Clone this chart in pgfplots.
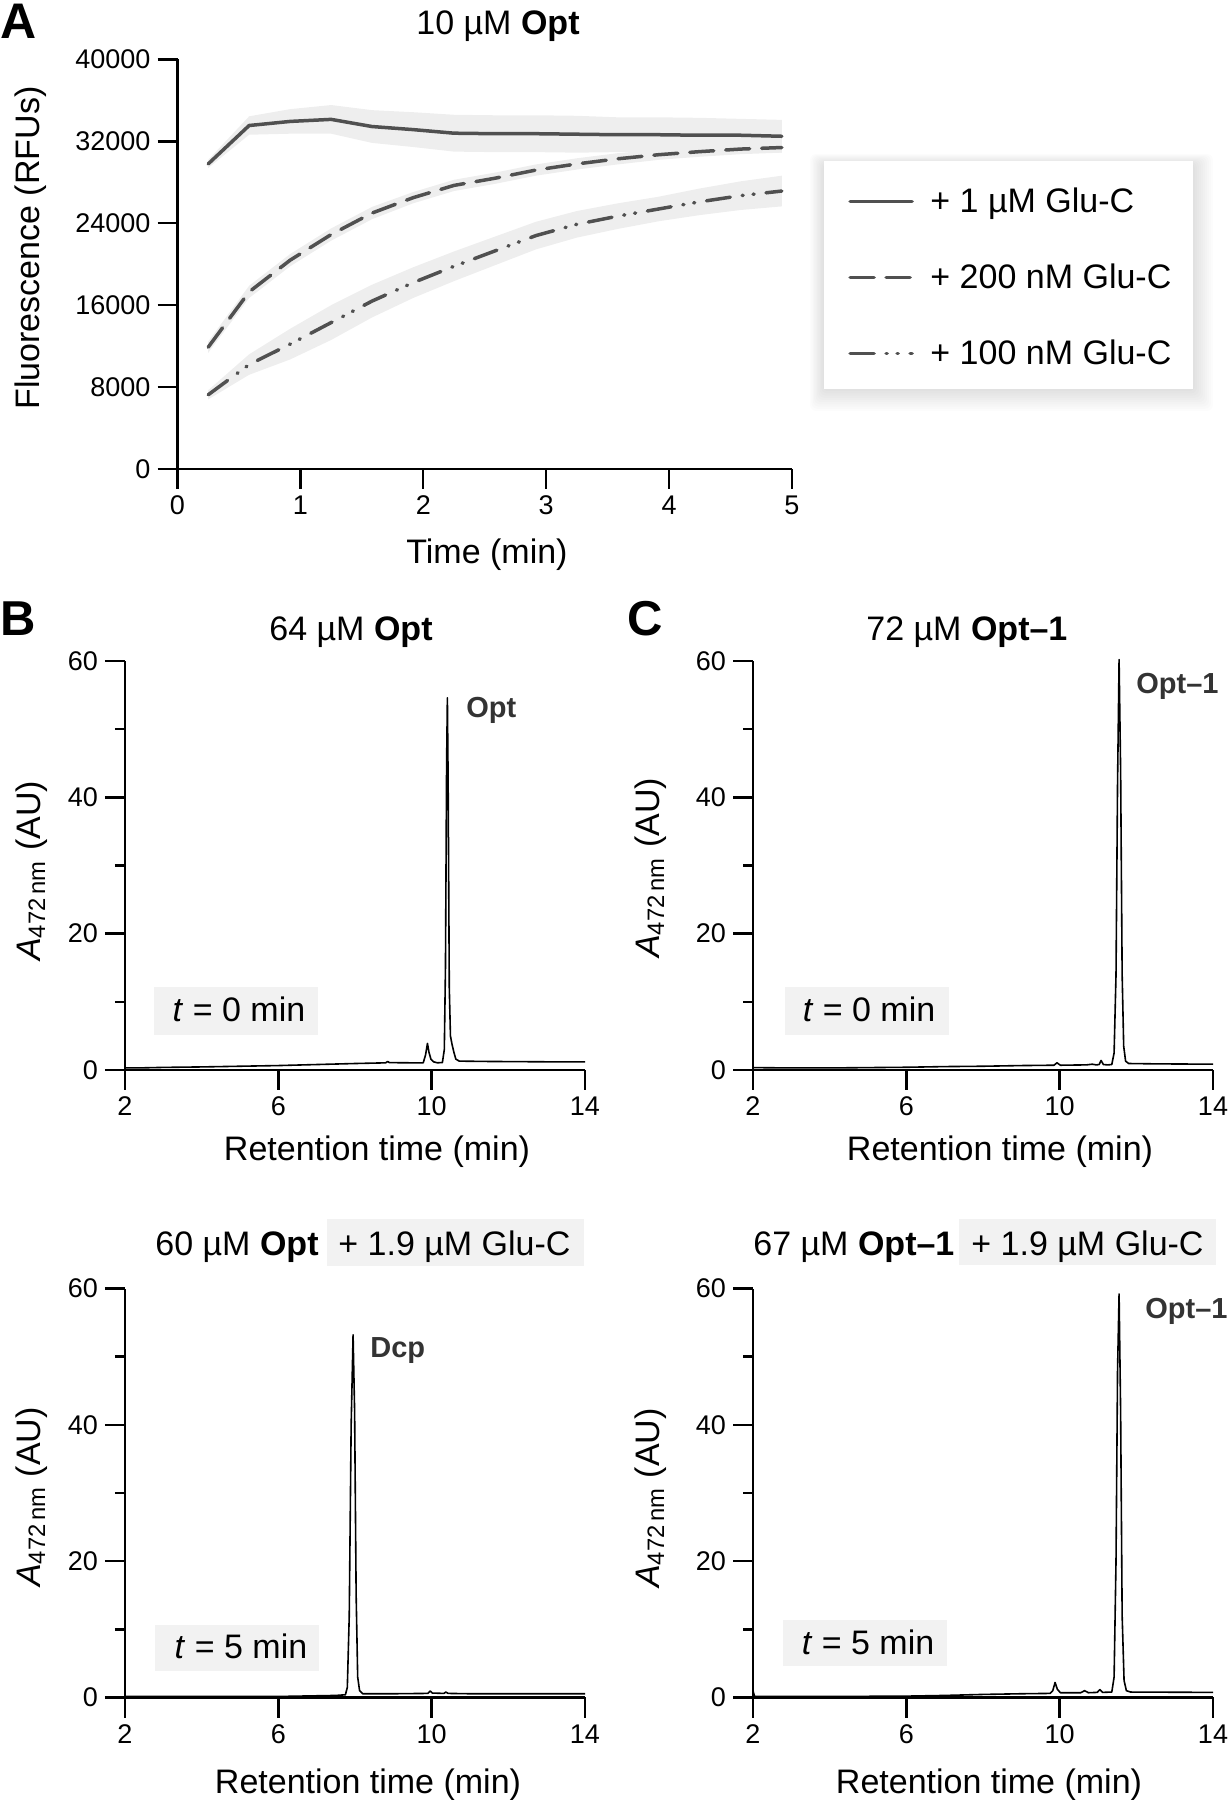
\documentclass[border=0pt]{standalone}
\usepackage{fontspec}
\setmainfont{Liberation Sans}
\usepackage{pgfplots}
\usepackage{pgfplotstable}
\pgfplotsset{compat=1.18}
\usepgfplotslibrary{fillbetween}

\definecolor{linegray}{HTML}{505050}
\definecolor{bandgray}{HTML}{EEEEEE}
\definecolor{boxgray}{HTML}{F2F2F2}
\definecolor{labgray}{HTML}{333333}

\newcommand{\fs}[1]{\fontsize{#1}{#1}\selectfont}

% panel A: time, mean, upper and lower edge of the band for each Glu-C level
\pgfplotstableread{
t     s     su    sl     d     du    dl     c     cu    cl
0.250 29800 30200 29400  11900 12450 11350  7250  7700  6800
0.583 33550 34450 32650  17300 17900 16700  10200 11200 9200
0.917 33950 35150 32750  20400 21000 19800  12200 13700 10700
1.250 34150 35550 32750  22900 23500 22300  14300 16000 12600
1.583 33450 35050 31850  25000 25600 24400  16400 18000 14800
1.917 33150 34850 31450  26500 27050 25950  18200 19700 16700
2.250 32800 34600 31000  27700 28250 27150  19800 21250 18350
2.583 32750 34550 30950  28400 28950 27850  21300 22700 19900
2.917 32750 34550 30950  29200 29750 28650  22800 24150 21450
3.250 32700 34500 30900  29800 30350 29250  23900 25200 22600
3.583 32650 34350 30950  30300 30850 29750  24700 25950 23450
3.917 32650 34350 30950  30700 31200 30200  25400 26600 24200
4.250 32600 34300 30900  31000 31500 30500  26100 27400 24800
4.583 32600 34200 31000  31250 31750 30750  26700 28100 25300
4.917 32500 34100 30900  31400 31900 30900  27150 28650 25650
}\dataA

% chromatograms
\pgfplotstableread{
x y
2.00 0.30
2.50 0.32
3.00 0.38
4.00 0.45
5.00 0.55
6.00 0.65
7.00 0.80
8.00 0.95
8.80 1.05
8.85 1.25
8.90 1.08
9.50 1.05
9.78 1.05
9.84 2.2
9.89 3.9
9.93 2.6
9.98 1.6
10.05 1.2
10.15 1.05
10.28 1.1
10.33 3.0
10.36 15
10.39 45
10.41 54.6
10.43 42
10.46 12
10.49 5.0
10.53 3.8
10.58 2.6
10.63 1.6
10.72 1.3
11.50 1.25
13.00 1.2
14.00 1.2
}\chromBa

\pgfplotstableread{
x y
2.00 0.35
3.00 0.30
4.00 0.30
5.00 0.35
6.00 0.40
7.00 0.50
8.00 0.55
9.00 0.65
9.85 0.70
9.93 1.05
10.02 0.70
10.70 0.75
10.85 0.85
10.95 0.75
11.03 0.80
11.08 1.4
11.14 0.80
11.25 0.75
11.36 0.80
11.42 2.5
11.47 14
11.51 42
11.55 60.2
11.59 44
11.63 14
11.67 3.5
11.72 1.3
11.80 0.95
12.50 0.90
14.00 0.85
}\chromCa

\pgfplotstableread{
x y
2.00 0.15
4.00 0.15
6.00 0.15
6.50 0.20
7.00 0.25
7.50 0.30
7.75 0.40
7.80 1.5
7.85 12
7.90 40
7.95 53.2
7.99 42
8.03 15
8.07 3
8.12 1.0
8.20 0.55
9.00 0.55
9.90 0.60
9.96 0.95
10.02 0.65
10.32 0.60
10.37 0.80
10.43 0.60
11.00 0.55
14.00 0.55
}\chromBb

\pgfplotstableread{
x y
2.00 1.0
2.04 0.15
4.00 0.15
6.00 0.20
7.00 0.30
8.00 0.45
9.00 0.55
9.75 0.60
9.82 1.0
9.88 2.2
9.94 1.2
10.02 0.70
10.55 0.70
10.65 1.0
10.75 0.70
10.98 0.75
11.05 1.15
11.12 0.75
11.36 0.80
11.42 3
11.47 20
11.51 48
11.55 59.2
11.59 42
11.63 12
11.68 2.5
11.74 1.0
11.85 0.80
14.00 0.75
}\chromCb

\pgfplotsset{
  common/.style={
    scale only axis, anchor=south west, clip=false, no marks,
    axis x line=bottom, axis y line=left,
    axis line style={-, line width=1.2pt},
    tick align=outside, major tick length=10pt, minor tick length=5pt,
    tick style={black, line width=1.2pt},
    /pgf/number format/assume math mode=true,
  },
  chrom/.style={
    common, width=230pt, height=204.5pt,
    xmin=2, xmax=14, ymin=0, ymax=60,
    xtick={2,6,10,14}, ytick={0,20,40,60}, minor ytick={10,30,50},
    tick label style={font=\fs{13.5}},
  },
}

\begin{document}
\begin{tikzpicture}

% texts and boxes, in pixel units of the 1228x1800 reference
\begin{scope}[x=0.5pt, y=-0.5pt, yshift=900pt, every node/.style={inner sep=0pt}]
  % legend shadow and box of panel A
  \foreach \i in {1,...,10}
    \fill[black, opacity=0.013, rounded corners=3pt]
      (824-\i*1.4, 161-\i*1.0+3) rectangle (1193+\i*2.0, 389+\i*2.2);
  \fill[white] (824,161) rectangle (1193,389);

  % panel letters
  \node[anchor=north west, font=\fs{25}\bfseries] at (0,4) {A};
  \node[anchor=north west, font=\fs{24.5}\bfseries] at (0,601) {B};
  \node[anchor=north west, font=\fs{24.5}\bfseries] at (627,601) {C};

  % titles
  \node[anchor=base west, font=\fs{17}] at (416,35) {10 µM \textbf{Opt}};
  \node[anchor=base west, font=\fs{17}] at (269,641) {64 µM \textbf{Opt}};
  \node[anchor=base west, font=\fs{17}] at (866,641) {72 µM \textbf{Opt--1}};
  \fill[boxgray] (327,1219) rectangle (584,1266);
  \node[anchor=base west, font=\fs{17}] at (155,1256) {60 µM \textbf{Opt}};
  \node[anchor=base west, font=\fs{17}] at (338,1256) {+ 1.9 µM Glu-C};
  \fill[boxgray] (959,1219) rectangle (1216,1265);
  \node[anchor=base west, font=\fs{17}] at (753,1256) {67 µM \textbf{Opt--1}};
  \node[anchor=base west, font=\fs{17}] at (971,1256) {+ 1.9 µM Glu-C};

  % time boxes
  \fill[boxgray] (154,987) rectangle (318,1035);
  \node[anchor=base, font=\fs{17}] at (239,1022) {\textit{t} = 0 min};
  \fill[boxgray] (785,987) rectangle (949,1035);
  \node[anchor=base, font=\fs{17}] at (869,1022) {\textit{t} = 0 min};
  \fill[boxgray] (155,1625) rectangle (319,1671);
  \node[anchor=base, font=\fs{17}] at (241,1659) {\textit{t} = 5 min};
  \fill[boxgray] (783,1620) rectangle (947,1666);
  \node[anchor=base, font=\fs{17}] at (868,1655) {\textit{t} = 5 min};

  % axis labels
  \node[anchor=base, rotate=90, font=\fs{17}] at (39,248) {Fluorescence (RFUs)};
  \node[anchor=base, font=\fs{17}] at (487,564) {Time (min)};
  \node[anchor=base, rotate=90, font=\fs{17}] at (40,871) {\textit{A}\textsubscript{472\,nm} (AU)};
  \node[anchor=base, rotate=90, font=\fs{17}] at (659,868) {\textit{A}\textsubscript{472\,nm} (AU)};
  \node[anchor=base, rotate=90, font=\fs{17}] at (40,1497) {\textit{A}\textsubscript{472\,nm} (AU)};
  \node[anchor=base, rotate=90, font=\fs{17}] at (659,1498) {\textit{A}\textsubscript{472\,nm} (AU)};
  \node[anchor=base, font=\fs{17}] at (377,1161) {Retention time (min)};
  \node[anchor=base, font=\fs{17}] at (1000,1161) {Retention time (min)};
  \node[anchor=base, font=\fs{17}] at (368,1794) {Retention time (min)};
  \node[anchor=base, font=\fs{17}] at (989,1794) {Retention time (min)};

  % peak names
  \node[anchor=base west, font=\fs{14.5}\bfseries, text=labgray] at (466,718) {Opt};
  \node[anchor=base west, font=\fs{14.5}\bfseries, text=labgray] at (1136,694) {Opt--1};
  \node[anchor=base west, font=\fs{14.5}\bfseries, text=labgray] at (370,1358) {Dcp};
  \node[anchor=base west, font=\fs{14.5}\bfseries, text=labgray] at (1145,1319) {Opt--1};
\end{scope}

% A: fluorescence over time
\begin{axis}[common,
    width=307.25pt, height=204.75pt, at={(88.75pt,665.5pt)},
    xmin=0, xmax=5, ymin=0, ymax=40000,
    xtick={0,1,2,3,4,5}, ytick={0,8000,16000,24000,32000,40000},
    scaled y ticks=false,
    yticklabel style={/pgf/number format/1000 sep={}},
    tick label style={font=\fs{13.5}},
    legend style={at={(1.0911,0.4625)}, anchor=west, draw=none, fill=none,
      font=\fs{17}, inner sep=0pt, row sep=21.5pt, column sep=8.3pt,
      nodes={inner sep=0pt, text height=12.5pt, text depth=4pt}},
    legend cell align=left,
    legend image code/.code={\draw[#1] (0pt,1pt) -- (31pt,1pt);},
  ]
  \addplot[name path=su, draw=none, forget plot] table[x=t, y=su] {\dataA};
  \addplot[name path=sl, draw=none, forget plot] table[x=t, y=sl] {\dataA};
  \addplot[name path=du, draw=none, forget plot] table[x=t, y=du] {\dataA};
  \addplot[name path=dl, draw=none, forget plot] table[x=t, y=dl] {\dataA};
  \addplot[name path=cu, draw=none, forget plot] table[x=t, y=cu] {\dataA};
  \addplot[name path=cl, draw=none, forget plot] table[x=t, y=cl] {\dataA};
  \addplot[bandgray, forget plot] fill between[of=su and sl];
  \addplot[bandgray, forget plot] fill between[of=du and dl];
  \addplot[bandgray, forget plot] fill between[of=cu and cl];

  \addplot[linegray, line width=1.75pt, line cap=round, line join=round]
    table[x=t, y=s] {\dataA};
  \addlegendentry{+ 1 µM Glu-C}
  \addplot[linegray, line width=1.75pt, line cap=round, dash pattern=on 12pt off 6pt]
    table[x=t, y=d] {\dataA};
  \addlegendentry{+ 200 nM Glu-C}
  \addplot[linegray, line width=1.75pt, line cap=round,
      dash pattern=on 12pt off 6pt on 0.5pt off 5pt on 0.5pt off 6pt]
    table[x=t, y=c] {\dataA};
  \addlegendentry{+ 100 nM Glu-C}
\end{axis}

% B and C: chromatograms
\begin{axis}[chrom, at={(62.5pt,365pt)}]
  \addplot[black, line width=0.8pt, line join=round] table {\chromBa};
\end{axis}
\begin{axis}[chrom, at={(376.5pt,365pt)}]
  \addplot[black, line width=0.8pt, line join=round] table {\chromCa};
\end{axis}
\begin{axis}[chrom, at={(62.5pt,51.25pt)}]
  \addplot[black, line width=0.8pt, line join=round] table {\chromBb};
\end{axis}
\begin{axis}[chrom, at={(376.5pt,51.25pt)}]
  \addplot[black, line width=0.8pt, line join=round] table {\chromCb};
\end{axis}

\pgfresetboundingbox
\path (0,0) rectangle (614pt,900pt);
\end{tikzpicture}
\end{document}
